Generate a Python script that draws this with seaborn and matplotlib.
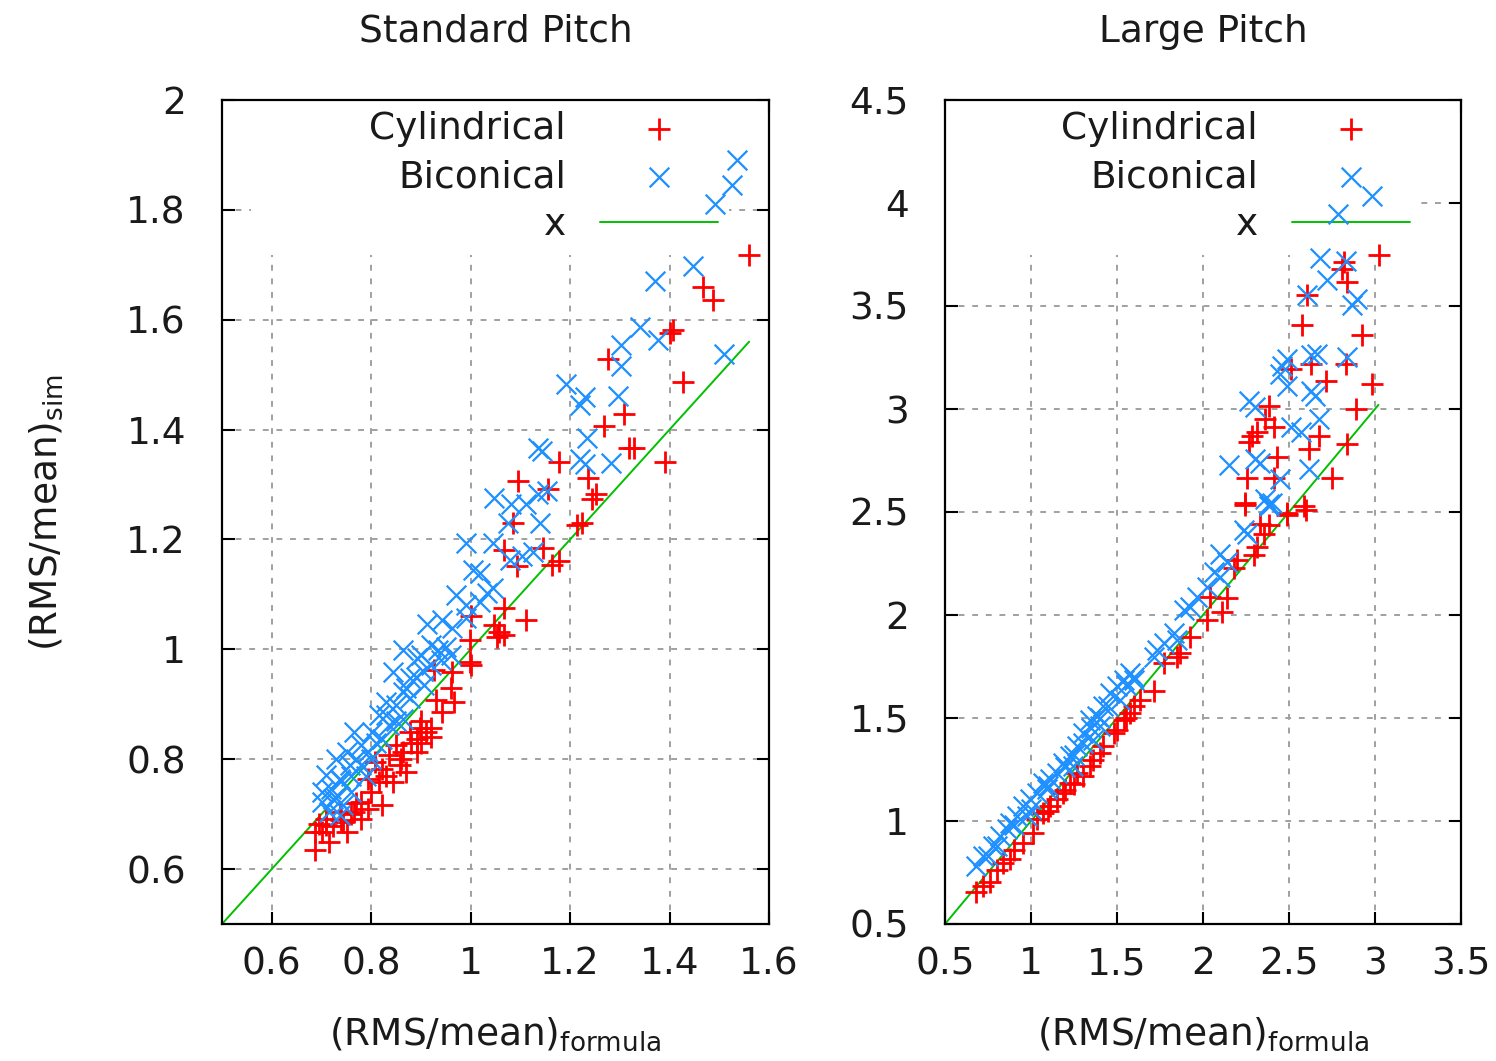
import numpy as np
import pandas as pd
import matplotlib
matplotlib.use("Agg")
import matplotlib.pyplot as plt
import seaborn as sns

# ---------------- data: Standard Pitch ----------------
std_cyl_x = [1.560, 1.467, 1.488, 1.407, 1.400, 1.276, 1.428, 1.308, 1.269, 1.319, 1.329, 1.178, 1.237, 1.252,
             1.245, 1.391, 1.095, 1.156, 1.213, 1.224, 1.086, 1.068, 1.093, 1.146, 1.163, 1.178, 1.068, 1.111,
             1.001, 0.998, 1.047, 1.058, 1.068, 1.054, 0.998, 1.001, 0.927, 0.963, 0.960, 0.930, 0.966, 0.942,
             0.920, 0.899, 0.878, 0.892, 0.850, 0.864, 0.892, 0.836, 0.857, 0.871, 0.808, 0.822, 0.794, 0.815,
             0.843, 0.779, 0.794, 0.765, 0.822, 0.779, 0.737, 0.744, 0.751, 0.709, 0.723, 0.702, 0.688, 0.716,
             0.688, 0.695, 0.900, 0.910, 0.880, 0.860, 0.830, 0.800, 0.770, 0.760, 0.740, 0.710, 0.900, 0.920]
std_cyl_y = [1.718, 1.660, 1.636, 1.581, 1.575, 1.529, 1.486, 1.428, 1.407, 1.367, 1.367, 1.341, 1.312, 1.282,
             1.273, 1.341, 1.306, 1.291, 1.227, 1.230, 1.230, 1.181, 1.151, 1.184, 1.154, 1.160, 1.075, 1.054,
             1.060, 1.017, 1.044, 1.032, 1.026, 1.023, 0.977, 0.971, 0.962, 0.959, 0.929, 0.907, 0.904, 0.886,
             0.856, 0.856, 0.850, 0.837, 0.825, 0.813, 0.813, 0.807, 0.789, 0.777, 0.795, 0.783, 0.764, 0.758,
             0.758, 0.722, 0.710, 0.704, 0.716, 0.691, 0.704, 0.685, 0.667, 0.691, 0.679, 0.667, 0.667, 0.649,
             0.634, 0.682, 0.870, 0.850, 0.830, 0.800, 0.770, 0.740, 0.720, 0.700, 0.690, 0.680, 0.830, 0.840]

std_bic_x = [1.535, 1.525, 1.491, 1.448, 1.371, 1.340, 1.303, 1.377, 1.303, 1.510, 1.192, 1.230, 1.220, 1.297,
             1.235, 1.135, 1.144, 1.220, 1.230, 1.283, 1.047, 1.082, 1.111, 1.135, 1.153, 1.075, 1.139, 0.991,
             1.044, 1.079, 1.104, 1.125, 1.005, 1.019, 0.970, 1.033, 1.044, 0.991, 1.019, 0.913, 0.942, 0.963,
             0.991, 0.920, 0.935, 0.950, 0.960, 0.864, 0.892, 0.920, 0.843, 0.878, 0.906, 0.864, 0.829, 0.850,
             0.878, 0.815, 0.836, 0.864, 0.801, 0.822, 0.765, 0.779, 0.751, 0.794, 0.730, 0.758, 0.709, 0.737,
             0.702, 0.723, 0.744, 0.702, 0.716, 0.737, 0.780, 0.800, 0.810, 0.850, 0.890, 0.900, 0.760, 0.720,
             0.740, 0.770, 0.830, 0.870, 0.905, 0.940, 0.790, 0.760, 0.730]
std_bic_y = [1.891, 1.846, 1.811, 1.697, 1.670, 1.587, 1.554, 1.564, 1.516, 1.538, 1.483, 1.459, 1.444, 1.461,
             1.384, 1.367, 1.361, 1.346, 1.337, 1.340, 1.276, 1.264, 1.264, 1.282, 1.288, 1.230, 1.230, 1.194,
             1.194, 1.163, 1.169, 1.178, 1.145, 1.139, 1.099, 1.102, 1.111, 1.081, 1.087, 1.047, 1.054, 1.038,
             1.057, 1.008, 0.999, 1.005, 0.990, 0.999, 0.984, 0.971, 0.959, 0.947, 0.935, 0.923, 0.904, 0.898,
             0.911, 0.880, 0.862, 0.874, 0.850, 0.837, 0.850, 0.825, 0.813, 0.813, 0.801, 0.789, 0.771, 0.764,
             0.740, 0.728, 0.716, 0.722, 0.704, 0.698, 0.790, 0.800, 0.830, 0.870, 0.950, 0.990, 0.770, 0.745,
             0.760, 0.800, 0.880, 0.930, 0.960, 0.980, 0.770, 0.740, 0.730]

std_line_x = [0.50, 1.56]

# ---------------- data: Large Pitch ----------------
lrg_cyl_x = [3.023, 2.819, 2.810, 2.839, 2.602, 2.577, 2.926, 2.509, 2.625, 2.829, 2.713, 2.984, 2.383, 2.363,
             2.412, 2.887, 2.315, 2.285, 2.266, 2.674, 2.616, 2.839, 2.431, 2.256, 2.412, 2.751, 2.246, 2.586,
             2.489, 2.247, 2.596, 2.489, 2.334, 2.383, 2.353, 2.315, 2.295, 2.198, 2.179, 2.140, 2.111, 2.023,
             2.043, 1.926, 1.868, 1.849, 1.771, 1.713, 1.635, 1.577, 1.538, 1.499, 1.480, 1.421, 1.363, 1.344,
             1.305, 1.266, 1.227, 1.188, 1.150, 1.111, 1.072, 1.033, 1.014, 0.956, 0.878, 0.839, 0.761, 0.722,
             0.683, 1.400, 1.550, 1.600, 1.250, 0.900, 0.800, 1.200, 1.100]
lrg_cyl_y = [3.747, 3.714, 3.682, 3.617, 3.555, 3.406, 3.357, 3.195, 3.219, 3.219, 3.138, 3.122, 3.016, 2.951,
             2.911, 3.000, 2.886, 2.870, 2.838, 2.870, 2.805, 2.830, 2.765, 2.667, 2.667, 2.667, 2.545, 2.529,
             2.497, 2.532, 2.508, 2.484, 2.444, 2.435, 2.395, 2.331, 2.290, 2.266, 2.226, 2.081, 2.016, 1.976,
             2.089, 1.895, 1.815, 1.798, 1.766, 1.629, 1.589, 1.524, 1.492, 1.444, 1.427, 1.363, 1.298, 1.266,
             1.218, 1.234, 1.185, 1.137, 1.105, 1.073, 1.040, 1.008, 0.944, 0.895, 0.815, 0.798, 0.702, 0.685,
             0.653, 1.330, 1.500, 1.560, 1.180, 0.860, 0.760, 1.150, 1.050]

lrg_bic_x = [2.984, 2.784, 2.683, 2.829, 2.722, 2.602, 2.897, 2.868, 2.489, 2.460, 2.450, 2.625, 2.664, 2.839,
             2.489, 2.625, 2.654, 2.266, 2.305, 2.509, 2.567, 2.674, 2.150, 2.305, 2.334, 2.450, 2.616, 2.363,
             2.402, 2.382, 2.383, 2.237, 2.256, 2.101, 2.140, 2.062, 2.101, 2.023, 1.965, 1.926, 1.887, 1.829,
             1.849, 1.732, 1.713, 1.771, 1.577, 1.538, 1.499, 1.460, 1.596, 1.518, 1.421, 1.382, 1.344, 1.305,
             1.402, 1.363, 1.266, 1.227, 1.188, 1.247, 1.150, 1.111, 1.072, 1.033, 1.091, 0.995, 0.956, 0.917,
             0.976, 0.878, 0.858, 0.819, 0.781, 0.722, 0.683, 1.200, 1.300, 1.450, 1.550, 1.000, 0.900, 0.800,
             0.750, 1.100, 1.400, 1.600, 1.250, 1.350]
lrg_bic_y = [4.036, 3.945, 3.731, 3.718, 3.625, 3.555, 3.536, 3.506, 3.244, 3.211, 3.170, 3.260, 3.268, 3.252,
             3.114, 3.089, 3.065, 3.041, 3.008, 2.911, 2.886, 2.951, 2.729, 2.757, 2.740, 2.659, 2.708, 2.562,
             2.545, 2.529, 2.540, 2.411, 2.395, 2.298, 2.258, 2.210, 2.185, 2.137, 2.089, 2.040, 2.024, 1.911,
             1.879, 1.831, 1.798, 1.863, 1.718, 1.685, 1.653, 1.621, 1.685, 1.589, 1.556, 1.508, 1.492, 1.427,
             1.460, 1.395, 1.363, 1.315, 1.282, 1.266, 1.234, 1.202, 1.185, 1.137, 1.153, 1.105, 1.073, 1.024,
             1.024, 0.992, 0.960, 0.927, 0.879, 0.831, 0.782, 1.260, 1.380, 1.560, 1.660, 1.060, 0.980, 0.880,
             0.830, 1.170, 1.500, 1.700, 1.320, 1.450]

lrg_line_x = [0.50, 3.02]

titles = ["Standard Pitch", "Large Pitch"]
xlabel = "(RMS/mean)$_{\\mathregular{formula}}$"
ylabel = "(RMS/mean)$_{\\mathregular{sim}}$"
labels = ["Cylindrical", "Biconical", "x"]

# ---------------- style ----------------
sns.set_theme(style="white")
plt.rcParams['font.family'] = ['DejaVu Sans']
plt.rcParams['mathtext.default'] = 'regular'
TXT = '#1a1a1a'
FS = 27
RED = '#ff0000'
BLUE = '#1e90ff'
GREEN = '#00c000'

fig = plt.figure(figsize=(14.96, 10.61), dpi=100)
axL = fig.add_axes([222/1496, 1-924/1061, (769-222)/1496, (924-100)/1061])
axR = fig.add_axes([945/1496, 1-924/1061, (1461-945)/1496, (924-100)/1061])

panels = [
    (axL, std_cyl_x, std_cyl_y, std_bic_x, std_bic_y, std_line_x,
     (0.5, 1.6), (0.5, 2.0), [0.6, 0.8, 1.0, 1.2, 1.4, 1.6], [0.6, 0.8, 1.0, 1.2, 1.4, 1.6, 1.8, 2.0], 769-222),
    (axR, lrg_cyl_x, lrg_cyl_y, lrg_bic_x, lrg_bic_y, lrg_line_x,
     (0.5, 3.5), (0.5, 4.5), [0.5, 1, 1.5, 2, 2.5, 3, 3.5], [0.5, 1, 1.5, 2, 2.5, 3, 3.5, 4, 4.5], 1461-945),
]

for i, (ax, cx, cy, bx, by, lx, xlim, ylim, xt, yt, wpx) in enumerate(panels):
    ax.set_axisbelow(True)
    sns.scatterplot(x=cx, y=cy, ax=ax, marker='+', color=RED, s=240,
                    linewidth=2.0, label=" " * 9 + labels[0], zorder=3)
    sns.scatterplot(x=bx, y=by, ax=ax, marker='x', color=BLUE, s=200,
                    linewidth=1.6, label=labels[1], zorder=3)
    sns.lineplot(x=lx, y=lx, ax=ax, color=GREEN, linewidth=1.4, label=labels[2], zorder=2.5)

    ax.set_xlim(*xlim)
    ax.set_ylim(*ylim)
    ax.set_xticks(xt)
    ax.set_yticks(yt)
    ax.set_xticklabels([f"{v:g}" for v in xt])
    ax.set_yticklabels([f"{v:g}" for v in yt])
    ax.tick_params(axis='both', which='major', direction='in', length=9, width=1.5,
                   top=True, right=True, bottom=True, left=True,
                   labelsize=FS, colors='black', labelcolor=TXT)
    ax.tick_params(axis='x', pad=16)
    ax.tick_params(axis='y', pad=26)
    ax.grid(True, color='#a0a0a0', linestyle=(0, (3, 4)), linewidth=1.4)
    for sp in ax.spines.values():
        sp.set_color('black')
        sp.set_linewidth(1.6)
        sp.set_visible(True)
    ax.set_title(titles[i], fontsize=FS, color=TXT, pad=42)
    ax.set_xlabel(xlabel, fontsize=FS, color=TXT, labelpad=24)
    if i == 0:
        ax.set_ylabel(ylabel, fontsize=FS, color=TXT, labelpad=44)
    else:
        ax.set_ylabel("")

    leg = ax.legend(loc='upper right', markerfirst=False, frameon=True, fontsize=FS,
                    handlelength=3.15, handletextpad=0.9, labelspacing=0.32,
                    borderaxespad=0.0, borderpad=0.3,
                    bbox_to_anchor=(1 - 40 / wpx, 1.0),
                    labelcolor=TXT)
    fr = leg.get_frame()
    fr.set_facecolor('white')
    fr.set_edgecolor('none')
    fr.set_alpha(1.0)
    leg.set_zorder(2)

fig.savefig("out.png", dpi=100)
